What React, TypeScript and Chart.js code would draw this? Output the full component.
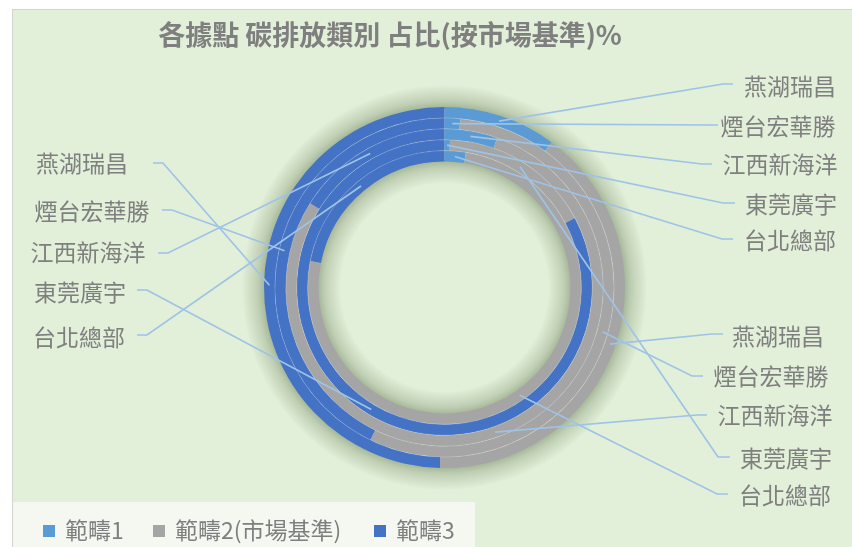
import React, { useEffect, useRef } from 'react';
import { Chart, registerables } from 'chart.js';

Chart.register(...registerables);

// ---- data ----
const SITES = ['燕湖瑞昌', '煙台宏華勝', '江西新海洋', '東莞廣宇', '台北總部'];
const SCOPES = ['範疇1', '範疇2(市場基準)', '範疇3'];
const SCOPE1 = [10.1, 1.5, 5.4, 0.6, 2.5];
const SCOPE2 = [40.3, 55.7, 78.5, 16.6, 75.6];
const SCOPE3 = [49.6, 42.8, 16.1, 82.8, 21.9];
const TITLE = '各據點 碳排放類別 占比(按市場基準)%';

// ---- style / layout ----
const COLORS = ['#5b9bd5', '#a5a5a5', '#4472c4'];
const FONT = '"Noto Sans CJK TC", "Noto Sans", sans-serif';
const TEXT_COLOR = '#7f7f7f';
const LINE_COLOR = '#9dc3e6';
const BG = '#e2efd9';

// label layout per scope (index into SCOPES), per site: text centre x/y, stub start x, stub end x, line y
type LL = { x: number; y: number; s0: number; s1: number; ly: number };
const LABEL_LAYOUT: LL[][] = [
  [
    { x: 790, y: 86, s0: 733, s1: 723, ly: 84 },
    { x: 778, y: 126, s0: 718, s1: 708, ly: 125 },
    { x: 780, y: 164, s0: 712, s1: 702, ly: 164 },
    { x: 791, y: 204, s0: 735, s1: 723, ly: 203 },
    { x: 790, y: 240, s0: 733, s1: 722, ly: 239 },
  ],
  [
    { x: 778, y: 336, s0: 723, s1: 712, ly: 334 },
    { x: 771, y: 376, s0: 703, s1: 692, ly: 376 },
    { x: 775, y: 415, s0: 707, s1: 697, ly: 415 },
    { x: 786, y: 458, s0: 730, s1: 718, ly: 457 },
    { x: 785, y: 495, s0: 728, s1: 717, ly: 494 },
  ],
  [
    { x: 82, y: 163, s0: 153, s1: 163, ly: 163 },
    { x: 92, y: 211, s0: 162, s1: 172, ly: 210 },
    { x: 88, y: 252, s0: 158, s1: 168, ly: 253 },
    { x: 80, y: 292, s0: 137, s1: 147, ly: 290 },
    { x: 79, y: 337, s0: 137, s1: 147, ly: 335 },
  ],
];

const LEGEND_X = [43, 153, 374];

const decorPlugin = {
  id: 'decor',
  beforeDraw(chart: any) {
    const ctx = chart.ctx;
    ctx.save();
    // legend box background
    ctx.fillStyle = '#f5f8f1';
    ctx.fillRect(13, 502, 462, 45);
    // title
    ctx.fillStyle = TEXT_COLOR;
    ctx.font = `bold 27px ${FONT}`;
    ctx.textAlign = 'center';
    ctx.textBaseline = 'middle';
    ctx.fillText(TITLE, 390, 35);
    ctx.restore();
  },
  beforeDatasetsDraw(chart: any) {
    const ctx = chart.ctx;
    const outer = chart.getDatasetMeta(0).data[0];
    const inner = chart.getDatasetMeta(SITES.length - 1).data[0];
    if (!outer || !inner) return;
    const cx = outer.x;
    const cy = outer.y;
    const R = outer.outerRadius;
    const r = inner.innerRadius;
    const spread = 22;
    ctx.save();
    // outer halo
    const g1 = ctx.createRadialGradient(cx, cy, R - 2, cx, cy, R + spread);
    g1.addColorStop(0, 'rgba(70,95,50,0.42)');
    g1.addColorStop(0.35, 'rgba(70,95,50,0.22)');
    g1.addColorStop(1, 'rgba(70,95,50,0)');
    ctx.fillStyle = g1;
    ctx.beginPath();
    ctx.arc(cx, cy, R + spread, 0, Math.PI * 2);
    ctx.arc(cx, cy, R - 2, 0, Math.PI * 2, true);
    ctx.fill('evenodd');
    // inner halo
    const g2 = ctx.createRadialGradient(cx, cy, r - spread, cx, cy, r + 2);
    g2.addColorStop(0, 'rgba(70,95,50,0)');
    g2.addColorStop(0.65, 'rgba(70,95,50,0.22)');
    g2.addColorStop(1, 'rgba(70,95,50,0.42)');
    ctx.fillStyle = g2;
    ctx.beginPath();
    ctx.arc(cx, cy, r + 2, 0, Math.PI * 2);
    ctx.arc(cx, cy, r - spread, 0, Math.PI * 2, true);
    ctx.fill('evenodd');
    ctx.restore();
  },
  afterDatasetsDraw(chart: any) {
    const ctx = chart.ctx;
    ctx.save();
    // faint ring separators
    ctx.strokeStyle = 'rgba(255,255,255,0.28)';
    ctx.lineWidth = 0.7;
    for (let d = 0; d < SITES.length - 1; d++) {
      const el = chart.getDatasetMeta(d).data[0];
      ctx.beginPath();
      ctx.arc(el.x, el.y, el.innerRadius, 0, Math.PI * 2);
      ctx.stroke();
    }
    // leader lines
    ctx.strokeStyle = LINE_COLOR;
    ctx.lineWidth = 1.7;
    for (let d = 0; d < SITES.length; d++) {
      const meta = chart.getDatasetMeta(d);
      for (let s = 0; s < SCOPES.length; s++) {
        const el = meta.data[s];
        const lay = LABEL_LAYOUT[s][d];
        const mid = (el.startAngle + el.endAngle) / 2;
        const rr = (el.innerRadius + el.outerRadius) / 2;
        const ax = el.x + Math.cos(mid) * rr;
        const ay = el.y + Math.sin(mid) * rr;
        ctx.beginPath();
        ctx.moveTo(lay.s0, lay.ly);
        ctx.lineTo(lay.s1, lay.ly);
        ctx.lineTo(ax, ay);
        ctx.stroke();
      }
    }
    // labels
    ctx.fillStyle = TEXT_COLOR;
    ctx.font = `23px ${FONT}`;
    ctx.textAlign = 'center';
    ctx.textBaseline = 'middle';
    for (let s = 0; s < SCOPES.length; s++) {
      for (let d = 0; d < SITES.length; d++) {
        const lay = LABEL_LAYOUT[s][d];
        ctx.fillText(SITES[d], lay.x, lay.y);
      }
    }
    // legend
    ctx.textAlign = 'left';
    for (let s = 0; s < SCOPES.length; s++) {
      ctx.fillStyle = COLORS[s];
      ctx.fillRect(LEGEND_X[s], 525, 12, 12);
      ctx.fillStyle = TEXT_COLOR;
      ctx.fillText(SCOPES[s], LEGEND_X[s] + 22, 530);
    }
    ctx.restore();
  },
};

export default function App() {
  const ref = useRef<HTMLCanvasElement | null>(null);
  useEffect(() => {
    if (!ref.current) return;
    const datasets = SITES.map((site, i) => ({
      label: site,
      data: [SCOPE1[i], SCOPE2[i], SCOPE3[i]],
      backgroundColor: COLORS,
      borderWidth: 0,
      hoverOffset: 0,
      offset: 0,
    }));
    const chart = new Chart(ref.current, {
      type: 'doughnut',
      data: { labels: SCOPES, datasets },
      options: {
        responsive: false,
        animation: false,
        radius: 180.5,
        cutout: '69.8%',
        layout: { padding: { left: 37, right: 0, top: 28, bottom: 0 } },
        plugins: {
          legend: { display: false },
          title: { display: false },
          tooltip: { enabled: false },
        },
      } as any,
      plugins: [decorPlugin],
    });
    return () => chart.destroy();
  }, []);
  return (
    <div style={{ position: 'fixed', left: 0, top: 0, width: 852, height: 547, background: '#ffffff', overflow: 'hidden' }}>
      <div
        style={{
          position: 'absolute',
          left: 12,
          top: 9,
          right: 0,
          bottom: 0,
          background: BG,
          borderLeft: '1.5px solid #d4d4d4',
          borderTop: '1.5px solid #d4d4d4',
        }}
      />
      <canvas ref={ref} width={852} height={547} style={{ position: 'absolute', left: 0, top: 0, width: 852, height: 547 }} />
    </div>
  );
}
